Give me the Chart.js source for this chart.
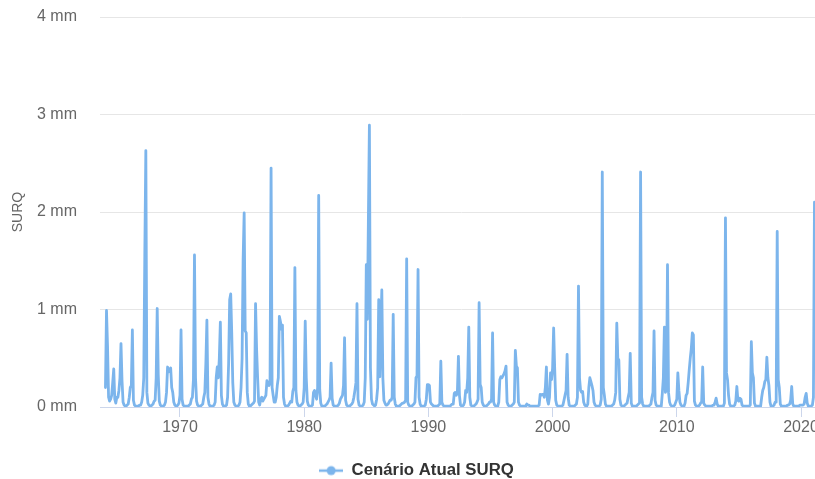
<!DOCTYPE html>
<html>
<head>
<meta charset="utf-8">
<script src="https://cdn.jsdelivr.net/npm/chart.js@4/dist/chart.umd.min.js"></script>
<style>
  html, body { margin: 0; padding: 0; background: #ffffff; overflow: hidden; }
  #wrap { position: relative; width: 833px; height: 479px; }
</style>
</head>
<body>
<div id="wrap"><canvas id="chart"></canvas></div>
<script>
// Monthly surface runoff (SURQ, mm), January 1964 onwards, one row per year.
const seriesName = 'Cenário Atual SURQ';
const axisTitle = 'SURQ';
const firstYear = 1964;
const yearTicks = [1970, 1980, 1990, 2000, 2010, 2020];
const mmTicks = [0, 1, 2, 3, 4];

const surq1960s = [
  0.2, 0.99, 0.62, 0.1, 0.06, 0.08, 0.12, 0.25, 0.39, 0.08, 0.04, 0.1,   // 1964
  0.1, 0.17, 0.3, 0.65, 0.27, 0.05, 0.02, 0.01, 0.01, 0.02, 0.03, 0.1,   // 1965
  0.2, 0.22, 0.79, 0.07, 0.02, 0.01, 0.01, 0.01, 0.01, 0.02, 0.02, 0.05, // 1966
  0.12, 0.3, 1.55, 2.63, 0.15, 0.04, 0.02, 0.01, 0.01, 0.02, 0.03, 0.06, // 1967
  0.07, 0.3, 1.01, 0.33, 0.06, 0.02, 0.01, 0.01, 0.01, 0.02, 0.05, 0.15, // 1968
  0.41, 0.36, 0.38, 0.4, 0.2, 0.15, 0.05, 0.02, 0.01, 0.01, 0.02, 0.04   // 1969
];

const surq1970s = [
  0.12, 0.79, 0.08, 0.02, 0.01, 0.01, 0.01, 0.01, 0.01, 0.02, 0.03, 0.08, // 1970
  0.1, 0.28, 1.56, 0.3, 0.06, 0.02, 0.01, 0.01, 0.01, 0.02, 0.03, 0.1,    // 1971
  0.15, 0.45, 0.89, 0.1, 0.03, 0.01, 0.01, 0.01, 0.01, 0.02, 0.05, 0.3,   // 1972
  0.41, 0.3, 0.5, 0.87, 0.12, 0.03, 0.01, 0.01, 0.01, 0.02, 0.1, 0.45,    // 1973
  1.1, 1.16, 0.76, 0.25, 0.05, 0.02, 0.01, 0.01, 0.01, 0.02, 0.05, 0.2,   // 1974
  0.5, 1.51, 1.99, 0.78, 0.76, 0.15, 0.03, 0.01, 0.01, 0.02, 0.03, 0.04,  // 1975
  0.06, 1.06, 0.6, 0.3, 0.05, 0.02, 0.08, 0.1, 0.06, 0.08, 0.1, 0.12,     // 1976
  0.27, 0.24, 0.22, 0.25, 2.45, 0.2, 0.12, 0.05, 0.05, 0.1, 0.22, 0.3,    // 1977
  0.93, 0.88, 0.8, 0.84, 0.1, 0.03, 0.01, 0.01, 0.01, 0.02, 0.04, 0.06,   // 1978
  0.05, 0.16, 0.2, 1.43, 0.17, 0.05, 0.02, 0.01, 0.01, 0.02, 0.03, 0.05   // 1979
];

const surq1980s = [
  0.2, 0.88, 0.3, 0.06, 0.02, 0.01, 0.01, 0.01, 0.02, 0.15, 0.17, 0.12,   // 1980
  0.08, 0.2, 2.17, 0.18, 0.04, 0.01, 0.01, 0.01, 0.01, 0.02, 0.03, 0.05,  // 1981
  0.07, 0.1, 0.45, 0.09, 0.02, 0.01, 0.01, 0.01, 0.01, 0.02, 0.04, 0.08,  // 1982
  0.1, 0.12, 0.22, 0.71, 0.07, 0.02, 0.01, 0.01, 0.01, 0.02, 0.03, 0.05,  // 1983
  0.1, 0.17, 0.25, 1.06, 0.08, 0.02, 0.01, 0.01, 0.01, 0.02, 0.05, 0.3,   // 1984
  1.46, 0.9, 1.9, 2.89, 0.4, 0.08, 0.03, 0.02, 0.01, 0.02, 0.08, 0.2,     // 1985
  1.1, 0.31, 0.8, 1.2, 0.3, 0.07, 0.04, 0.02, 0.02, 0.03, 0.05, 0.07,     // 1986
  0.07, 0.1, 0.95, 0.1, 0.03, 0.01, 0.01, 0.01, 0.01, 0.02, 0.03, 0.04,   // 1987
  0.04, 0.05, 0.07, 1.52, 0.05, 0.02, 0.01, 0.01, 0.01, 0.02, 0.03, 0.05, // 1988
  0.3, 0.32, 1.41, 0.1, 0.03, 0.01, 0.01, 0.01, 0.01, 0.02, 0.08, 0.23    // 1989
];

const surq1990s = [
  0.23, 0.22, 0.05, 0.03, 0.02, 0.01, 0.01, 0.01, 0.01, 0.01, 0.02, 0.03, // 1990
  0.47, 0.05, 0.02, 0.01, 0.01, 0.01, 0.01, 0.01, 0.01, 0.01, 0.02, 0.03, // 1991
  0.03, 0.14, 0.15, 0.12, 0.15, 0.52, 0.12, 0.02, 0.01, 0.01, 0.02, 0.05, // 1992
  0.17, 0.15, 0.3, 0.82, 0.1, 0.02, 0.01, 0.01, 0.01, 0.02, 0.03, 0.05,   // 1993
  0.08, 1.07, 0.23, 0.2, 0.05, 0.02, 0.01, 0.01, 0.01, 0.02, 0.03, 0.05,  // 1994
  0.05, 0.08, 0.76, 0.05, 0.02, 0.01, 0.01, 0.01, 0.05, 0.28, 0.31, 0.3,  // 1995
  0.32, 0.34, 0.37, 0.42, 0.05, 0.02, 0.01, 0.01, 0.01, 0.02, 0.03, 0.05, // 1996
  0.58, 0.42, 0.4, 0.05, 0.02, 0.01, 0.01, 0.01, 0.01, 0.01, 0.01, 0.03,  // 1997
  0.02, 0.02, 0.01, 0.01, 0.01, 0.01, 0.01, 0.01, 0.01, 0.01, 0.01, 0.02, // 1998
  0.13, 0.12, 0.13, 0.13, 0.1, 0.2, 0.41, 0.07, 0.03, 0.1, 0.35, 0.28     // 1999
];

const surq2000s = [
  0.4, 0.81, 0.4, 0.07, 0.02, 0.01, 0.01, 0.01, 0.01, 0.01, 0.02, 0.07,   // 2000
  0.12, 0.17, 0.54, 0.1, 0.02, 0.01, 0.01, 0.01, 0.01, 0.01, 0.02, 0.03,  // 2001
  0.1, 1.24, 0.3, 0.17, 0.15, 0.16, 0.05, 0.02, 0.01, 0.01, 0.03, 0.2,    // 2002
  0.3, 0.26, 0.22, 0.17, 0.05, 0.02, 0.01, 0.01, 0.01, 0.01, 0.02, 0.08,  // 2003
  2.41, 0.2, 0.12, 0.03, 0.01, 0.01, 0.01, 0.01, 0.01, 0.01, 0.02, 0.03,  // 2004
  0.07, 0.15, 0.86, 0.5, 0.48, 0.08, 0.02, 0.01, 0.01, 0.01, 0.02, 0.03,  // 2005
  0.04, 0.1, 0.15, 0.55, 0.04, 0.01, 0.01, 0.01, 0.01, 0.01, 0.02, 0.03,  // 2006
  0.04, 2.41, 0.1, 0.03, 0.01, 0.01, 0.01, 0.01, 0.01, 0.01, 0.02, 0.03,  // 2007
  0.1, 0.15, 0.78, 0.07, 0.02, 0.01, 0.01, 0.01, 0.01, 0.01, 0.14, 0.3,   // 2008
  0.82, 0.15, 0.18, 1.46, 0.15, 0.05, 0.02, 0.01, 0.01, 0.01, 0.02, 0.05  // 2009
];

const surq2010s = [
  0.08, 0.35, 0.17, 0.05, 0.02, 0.01, 0.01, 0.01, 0.04, 0.12, 0.14, 0.25, // 2010
  0.38, 0.5, 0.6, 0.76, 0.74, 0.06, 0.02, 0.01, 0.01, 0.01, 0.02, 0.04,   // 2011
  0.05, 0.41, 0.04, 0.02, 0.01, 0.01, 0.01, 0.01, 0.01, 0.01, 0.01, 0.02, // 2012
  0.02, 0.05, 0.09, 0.03, 0.01, 0.01, 0.01, 0.01, 0.01, 0.01, 0.04, 1.94, // 2013
  0.35, 0.28, 0.12, 0.03, 0.01, 0.01, 0.01, 0.01, 0.02, 0.06, 0.21, 0.07, // 2014
  0.06, 0.09, 0.08, 0.02, 0.01, 0.01, 0.01, 0.01, 0.01, 0.01, 0.01, 0.02, // 2015
  0.67, 0.35, 0.3, 0.04, 0.01, 0.01, 0.01, 0.01, 0.01, 0.01, 0.1, 0.17,   // 2016
  0.2, 0.26, 0.28, 0.51, 0.3, 0.22, 0.05, 0.01, 0.01, 0.01, 0.02, 0.05,   // 2017
  0.05, 1.8, 0.28, 0.2, 0.03, 0.01, 0.01, 0.01, 0.01, 0.01, 0.01, 0.02,   // 2018
  0.02, 0.03, 0.07, 0.21, 0.03, 0.01, 0.01, 0.01, 0.01, 0.01, 0.01, 0.02  // 2019
];

const surq2020s = [
  0.02, 0.02, 0.02, 0.03, 0.1, 0.14, 0.04, 0.01, 0.01, 0.01, 0.01, 0.02,  // 2020
  0.1, 2.1                                                                // 2021
];

const lineColor = '#7cb5ec';
const fontFamily = '"Liberation Sans", Arial, Helvetica, sans-serif';

const monthly = [].concat(surq1960s, surq1970s, surq1980s, surq1990s, surq2000s, surq2010s, surq2020s);
const points = monthly.map((v, i) => ({ x: firstYear + i / 12, y: v }));

// Legend symbol: short line with a round marker in the middle
function legendSymbol() {
  const c = document.createElement('canvas');
  c.width = 24; c.height = 12;
  const g = c.getContext('2d');
  g.strokeStyle = lineColor;
  g.lineWidth = 2.5;
  g.beginPath(); g.moveTo(0, 6); g.lineTo(24, 6); g.stroke();
  g.fillStyle = lineColor;
  g.beginPath(); g.arc(12, 6, 4.5, 0, Math.PI * 2); g.fill();
  return c;
}
const symbol = legendSymbol();

// Drop the built-in 10px gap under the legend row so it sits near the bottom edge
const compactLegend = {
  id: 'compactLegend',
  afterInit(chart) {
    const lg = chart.legend;
    if (!lg) return;
    const fit = lg.fit;
    lg.fit = function () { fit.call(this); this.height = Math.max(this.height - 10, 0); };
  }
};

Chart.defaults.font.family = fontFamily;

new Chart(document.getElementById('chart'), {
  type: 'line',
  data: {
    datasets: [{
      label: seriesName,
      data: points,
      borderColor: lineColor,
      backgroundColor: lineColor,
      borderWidth: 2.8,
      pointRadius: 0,
      pointHoverRadius: 0,
      tension: 0,
      fill: false,
      borderJoinStyle: 'round',
      borderCapStyle: 'round'
    }]
  },
  plugins: [compactLegend],
  options: {
    responsive: true,
    maintainAspectRatio: false,
    animation: false,
    layout: { padding: { top: 17, right: 10, bottom: 0, left: 10 } },
    plugins: {
      tooltip: { enabled: false },
      legend: {
        position: 'bottom',
        align: 'center',
        labels: {
          usePointStyle: true,
          pointStyleWidth: 24,
          padding: 0,
          color: '#333333',
          font: { size: 16.8, weight: 'bold', family: fontFamily },
          generateLabels: () => [{
            text: seriesName,
            pointStyle: symbol,
            fillStyle: lineColor,
            strokeStyle: lineColor,
            lineWidth: 0,
            fontColor: '#333333',
            datasetIndex: 0,
            hidden: false
          }]
        }
      }
    },
    scales: {
      x: {
        type: 'linear',
        min: 1963.56,
        max: 2021.77,
        afterBuildTicks: s => { s.ticks = yearTicks.map(v => ({ value: v })); },
        afterFit: s => { s.height = 72 - (s.chart.legend ? s.chart.legend.height : 0); },
        ticks: {
          color: '#666666',
          font: { size: 16 },
          padding: 1,
          maxRotation: 0,
          autoSkip: false,
          callback: v => String(v)
        },
        grid: { drawOnChartArea: false, drawTicks: true, tickLength: 10, color: '#ccd6eb' },
        border: { display: true, color: '#ccd6eb' }
      },
      y: {
        min: 0,
        max: 4,
        afterBuildTicks: s => { s.ticks = mmTicks.map(v => ({ value: v })); },
        // fixed axis width; label gap must not push the plot top down
        afterFit: s => { s.width = 90; s.paddingTop = 0; s.paddingBottom = 0; },
        ticks: {
          color: '#666666',
          font: { size: 16 },
          padding: 23,
          callback: v => v + ' mm'
        },
        grid: { color: '#e6e6e6', drawTicks: false },
        border: { display: false },
        title: {
          display: true,
          text: axisTitle,
          color: '#666666',
          font: { size: 14 },
          padding: { top: 0, bottom: 0 }
        }
      }
    }
  }
});
</script>
</body>
</html>
